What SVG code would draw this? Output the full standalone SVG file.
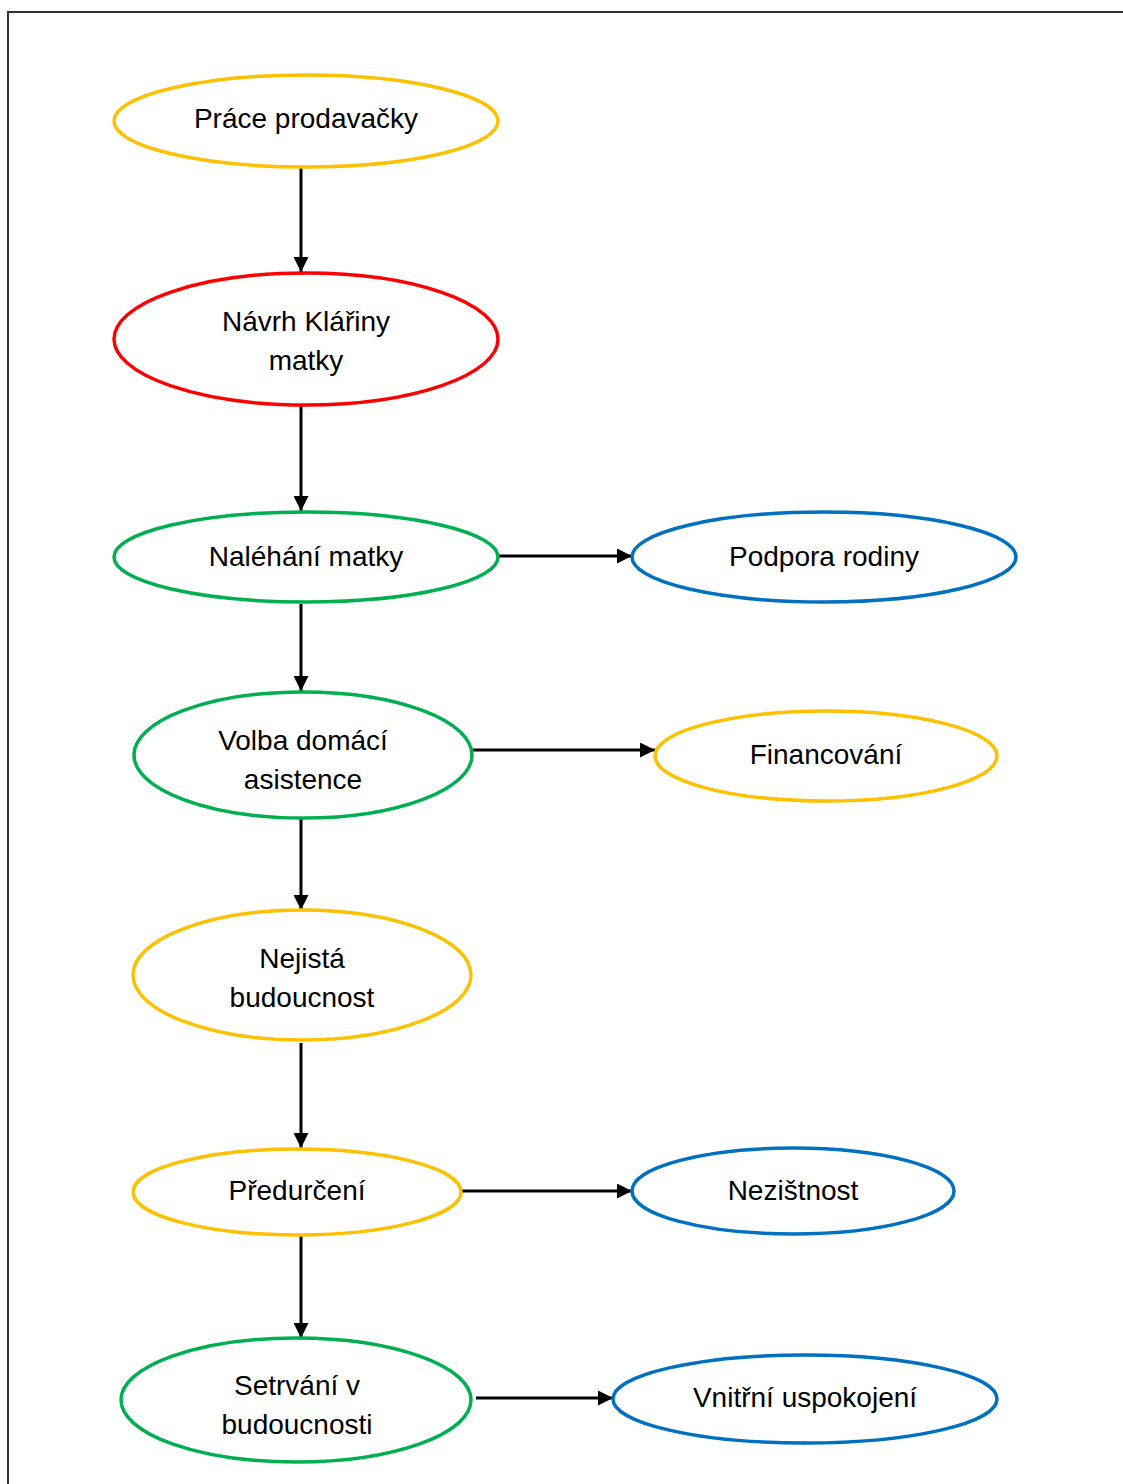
<svg xmlns="http://www.w3.org/2000/svg" width="1123" height="1484" viewBox="0 0 1123 1484">
  <style>
    .node { fill: #FFFFFF; stroke-width: 3.5; }
    .yellow { stroke: #FFC000; }
    .red { stroke: #FF0000; }
    .green { stroke: #00B050; }
    .blue { stroke: #0070C0; }
    text { font-family: "Liberation Sans", Arial, sans-serif; font-size: 28px; fill: #000000; text-anchor: middle; }
    .edge { stroke: #000000; stroke-width: 3; fill: none; marker-end: url(#arrow); }
  </style>
  <defs>
    <marker id="arrow" viewBox="0 0 10 10" refX="10" refY="5" markerWidth="5" markerHeight="5" markerUnits="strokeWidth" orient="auto">
      <path d="M0,0 L10,5 L0,10 Z" fill="#000000"/>
    </marker>
  </defs>

  <rect width="1123" height="1484" fill="#FFFFFF"/>
  <!-- page frame -->
  <path d="M8,1484 L8,12 L1123,12" fill="none" stroke="#333333" stroke-width="2"/>

  <g id="connectors">
    <line class="edge" x1="301" y1="168" x2="301" y2="272"/>
    <line class="edge" x1="301" y1="405" x2="301" y2="511"/>
    <line class="edge" x1="301" y1="604" x2="301" y2="691"/>
    <line class="edge" x1="301" y1="818" x2="301" y2="910"/>
    <line class="edge" x1="301" y1="1043" x2="301" y2="1148"/>
    <line class="edge" x1="301" y1="1235" x2="301" y2="1338"/>
    <line class="edge" x1="498" y1="556" x2="632" y2="556"/>
    <line class="edge" x1="471" y1="750" x2="655" y2="750"/>
    <line class="edge" x1="461" y1="1191" x2="632" y2="1191"/>
    <line class="edge" x1="476" y1="1398" x2="613" y2="1398"/>
  </g>

  <g id="prace-prodavacky">
    <ellipse class="node yellow" cx="306" cy="121" rx="192" ry="46"/>
    <text x="306" y="128">Práce prodavačky</text>
  </g>
  <g id="navrh-klariny-matky">
    <ellipse class="node red" cx="306" cy="339" rx="192" ry="66"/>
    <text x="306" y="331">Návrh Klářiny</text>
    <text x="306" y="370">matky</text>
  </g>
  <g id="nalehani-matky">
    <ellipse class="node green" cx="306" cy="557" rx="192" ry="45"/>
    <text x="306" y="566">Naléhání matky</text>
  </g>
  <g id="podpora-rodiny">
    <ellipse class="node blue" cx="824" cy="557" rx="192" ry="45"/>
    <text x="824" y="566">Podpora rodiny</text>
  </g>
  <g id="volba-domaci-asistence">
    <ellipse class="node green" cx="303" cy="755" rx="169" ry="63"/>
    <text x="303" y="750">Volba domácí</text>
    <text x="303" y="789">asistence</text>
  </g>
  <g id="financovani">
    <ellipse class="node yellow" cx="826" cy="756" rx="171" ry="45"/>
    <text x="826" y="764">Financování</text>
  </g>
  <g id="nejista-budoucnost">
    <ellipse class="node yellow" cx="302" cy="975" rx="169" ry="65"/>
    <text x="302" y="968">Nejistá</text>
    <text x="302" y="1007">budoucnost</text>
  </g>
  <g id="predurceni">
    <ellipse class="node yellow" cx="297" cy="1192" rx="164" ry="43"/>
    <text x="297" y="1200">Předurčení</text>
  </g>
  <g id="nezistnost">
    <ellipse class="node blue" cx="793" cy="1191" rx="161" ry="43"/>
    <text x="793" y="1200">Nezištnost</text>
  </g>
  <g id="setrvani-v-budoucnosti">
    <ellipse class="node green" cx="296" cy="1400" rx="175" ry="62"/>
    <text x="297" y="1395">Setrvání v</text>
    <text x="297" y="1434">budoucnosti</text>
  </g>
  <g id="vnitrni-uspokojeni">
    <ellipse class="node blue" cx="805" cy="1399" rx="192" ry="44"/>
    <text x="805" y="1407">Vnitřní uspokojení</text>
  </g>
</svg>
